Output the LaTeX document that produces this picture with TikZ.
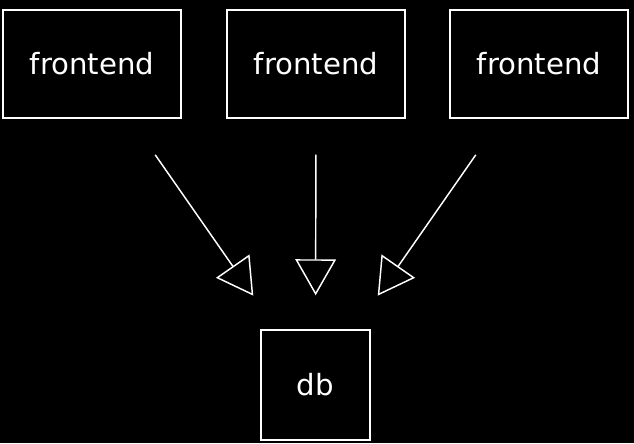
\documentclass[tikz,border=0pt]{standalone}
\usepackage{fontspec}
\setmainfont{DejaVu Sans}
\usetikzlibrary{arrows.meta}

\begin{document}
\begin{tikzpicture}[x=0.75pt, y=-0.75pt, line width=1.1pt, white, every node/.style={draw, font=\fontsize{21.9}{26}\selectfont}, dep/.style={-{Triangle[open, length=27pt, width=30.5pt]}}]
\fill[black] (0,0) rectangle (634,443);
\useasboundingbox (0,0) rectangle (634,443);
\node[minimum width=133.5pt, minimum height=81pt] (front1) at (92,64) {frontend};
\node[minimum width=133.5pt, minimum height=81pt] (front2) at (316,64) {frontend};
\node[minimum width=133.5pt, minimum height=81pt] (front3) at (539,64) {frontend};
\node[minimum width=81.75pt, minimum height=82.5pt] (db) at (315.5,385) {db};
\draw[dep, shorten <=33pt, shorten >=30.75pt] (front1) -- (db);
\draw[dep, shorten <=27pt, shorten >=25.5pt] (front2) -- (db);
\draw[dep, shorten <=33pt, shorten >=30.75pt] (front3) -- (db);
\end{tikzpicture}
\end{document}
